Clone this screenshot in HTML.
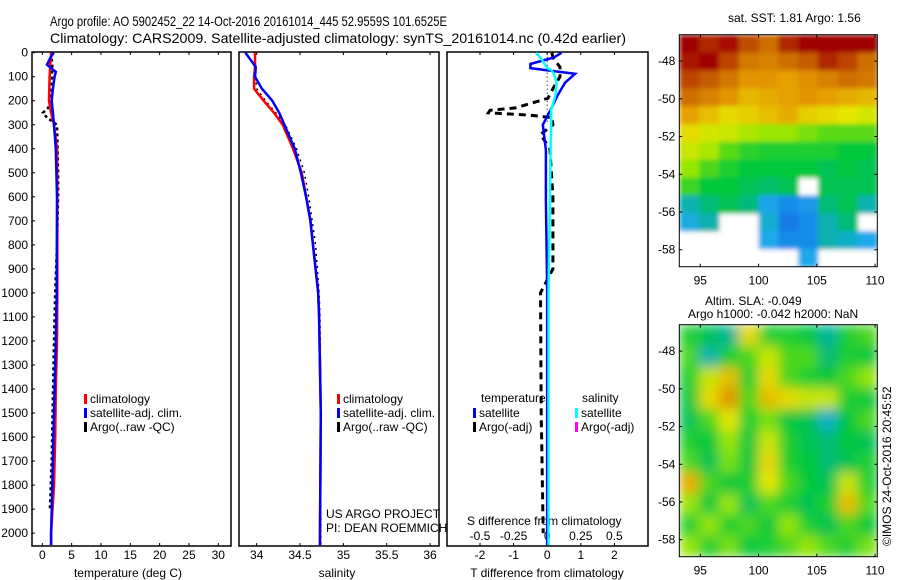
<!DOCTYPE html>
<html><head><meta charset="utf-8"><style>
body{margin:0;background:#fff;width:900px;height:580px;overflow:hidden}
svg{display:block;font-family:"Liberation Sans",sans-serif}
</style></head><body>
<svg id="fig" width="900" height="580" xmlns="http://www.w3.org/2000/svg">
<defs>
<filter id="blurSla" x="0" y="0" width="1" height="1"><feGaussianBlur stdDeviation="6" edgeMode="duplicate"/></filter>
<filter id="blurSst" x="0" y="0" width="1" height="1"><feGaussianBlur stdDeviation="2.5" edgeMode="duplicate"/></filter>
<clipPath id="clipM1"><rect x="679.3" y="34.7" width="198" height="232"/></clipPath>
<clipPath id="clipM2"><rect x="679.3" y="324.7" width="198" height="232"/></clipPath>
</defs>
<text x="50" y="26" font-size="14" textLength="397" lengthAdjust="spacingAndGlyphs">Argo profile: AO 5902452_22 14-Oct-2016 20161014_445 52.9559S 101.6525E</text>
<text x="50" y="43" font-size="14" textLength="576" lengthAdjust="spacingAndGlyphs">Climatology: CARS2009. Satellite-adjusted climatology: synTS_20161014.nc (0.42d earlier)</text>
<g id="g1"></g>
<g id="g2"></g>
<g id="g3"></g>
<g id="m1"></g>
<g id="m2"></g>
<text x="728" y="22" font-size="12">sat. SST: 1.81  Argo: 1.56</text>
<text x="705" y="305" font-size="12">Altim. SLA: -0.049</text>
<text x="688" y="318" font-size="12">Argo h1000: -0.042 h2000: NaN</text>
<text transform="translate(891,546) rotate(-90)" font-size="12">©IMOS 24-Oct-2016 20:45:52</text>
</svg>
<script>
// ---- data ----
const depthT=[0,20,50,80,100,150,200,250,300,400,600,1000,1200,1400,1600,1800,2000,2050];
const climT=[1.5,1.45,1.35,1.3,1.25,1.2,1.15,1.5,2.0,2.5,2.55,2.55,2.5,2.3,2.2,2.0,1.5,1.5];
const satT=[1.95,1.4,0.8,2.3,2.1,1.8,1.6,1.8,2.0,2.3,2.5,2.45,2.3,2.1,1.9,1.7,1.5,1.5];
const depthA=[0,50,100,150,200,230,250,270,300,400,500,600,800,1000,1200,1500,1700,1900];
const argoT=[1.5,1.7,1.65,1.4,1.3,1.0,0.1,0.8,2.5,2.6,2.7,2.7,2.5,2.2,2.0,1.75,1.6,1.3];
const depthS=[0,40,60,100,150,200,250,300,400,500,600,700,800,900,1000,1100,1500,2000,2050];
const climS=[33.98,33.98,33.98,33.97,33.97,34.08,34.2,34.3,34.42,34.52,34.57,34.62,34.65,34.68,34.71,34.72,34.74,34.73,34.73];
const satS=[33.87,33.95,33.99,33.98,34.06,34.18,34.26,34.32,34.44,34.51,34.57,34.62,34.65,34.68,34.71,34.72,34.74,34.73,34.73];
const argoS=[33.98,33.98,33.99,33.99,34.0,34.1,34.22,34.33,34.46,34.55,34.6,34.64,34.68,34.7,34.72,34.73,34.74,34.74,34.74];
const depthD=[0,20,47,64,72,88,125,180,238,300,405,612,1000,1500,2000,2050];
const satDT=[0.43,0.2,-0.5,-0.5,-0.07,0.83,0.53,0.3,0.1,-0.13,-0.04,-0.04,0,0,0,0];
const satDS=[-0.083,-0.05,-0.02,0,0.03,0.05,0.07,0.06,0.03,0.03,0.025,0.02,0.01,0.01,0.01,0.01];
const depthDA=[0,20,60,100,150,190,230,240,250,260,270,300,340,400,600,900,1000,1500,2000];
const argoDT=[0.14,0.17,0.38,0.38,0.17,0.02,-0.95,-1.7,-1.75,-0.5,0.14,0.17,-0.2,0.08,0.17,0.17,-0.2,-0.18,-0.12];
const depthTicks=[0,100,200,300,400,500,600,700,800,900,1000,1100,1200,1300,1400,1500,1600,1700,1800,1900,2000];
const tTicks=[0,5,10,15,20,25,30];
const sTicks=[34,34.5,35,35.5,36];
const sTickLabels=["34","34.5","35","35.5","36"];
const dTTicks=[-2,-1,0,1,2];
const dSTicks=[-0.5,-0.25,0,0.25,0.5];
const dSTickLabels=["-0.5","-0.25","0","0.25","0.5"];
const lonTicks=[95,100,105,110];
const latTicks=[-48,-50,-52,-54,-56,-58];
const sstGrid=[
[.97,.9,.93,.85,.8,.9,.96,.97,.97,.95],
[.92,.95,.86,.78,.76,.8,.83,.9,.86,.8],
[.86,.83,.78,.72,.72,.7,.73,.76,.8,.78],
[.8,.76,.72,.66,.68,.7,.72,.7,.68,.66],
[.7,.65,.6,.62,.65,.68,.62,.6,.58,.56],
[.6,.56,.55,.52,.5,.5,.48,.46,.46,.46],
[.55,.52,.46,.43,.42,.42,.42,.42,.4,.4],
[.5,.45,.42,.4,.4,.4,.4,.38,.4,.38],
[.44,.4,.4,.38,.36,.38,-1,.38,.38,.38],
[.3,.35,.38,.34,.24,.2,.22,.35,.38,.3],
[.26,.3,-1,-1,.27,.17,.2,.3,.35,-1],
[-1,-1,-1,-1,.25,.2,.2,.3,.28,.25],
[-1,-1,-1,-1,-1,-1,.25,-1,-1,-1]];
const slaGrid=[
[.42,.38,.32,.6,.42,.42,.4,.32,.42,.45],
[.45,.3,.42,.45,.55,.45,.45,.35,.42,.4],
[.42,.55,.65,.42,.6,.45,.42,.4,.45,.5],
[.4,.6,.72,.45,.65,.6,.55,.55,.42,.4],
[.38,.45,.58,.42,.48,.4,.38,.28,.4,.45],
[.42,.4,.5,.4,.55,.42,.38,.35,.4,.38],
[.45,.38,.48,.4,.6,.42,.4,.35,.38,.42],
[.68,.45,.4,.42,.58,.45,.4,.38,.55,.42],
[.5,.4,.5,.38,.45,.42,.38,.42,.65,.45],
[.42,.5,.42,.45,.4,.5,.42,.38,.45,.4],
[.5,.42,.48,.4,.42,.45,.5,.45,.42,.48]];
// ---- helpers ----
const NS="http://www.w3.org/2000/svg";
function mk(p,t,a){const e=document.createElementNS(NS,t);for(const k in a)e.setAttribute(k,a[k]);p.appendChild(e);return e;}
const Y=d=>52.7+d*0.2402;
const topY=52,botY=546;
function axisBox(g,x0,x1){mk(g,'rect',{x:x0,y:topY,width:x1-x0,height:botY-topY,fill:'none',stroke:'#000','stroke-width':1.5});}
function line(g,xs,ds,X,col,w,dash,name){
 const pts=ds.map((d,i)=>X(xs[i]).toFixed(1)+','+Y(d).toFixed(1)).join(' ');
 const pl=mk(g,'polyline',{points:pts,fill:'none',stroke:col,'stroke-width':w});
 if(dash)pl.setAttribute('stroke-dasharray',dash);
 
 
}
function txt(g,x,y,s,anchor,size,name){const t=mk(g,'text',{x:x,y:y,'font-size':size||12,'text-anchor':anchor||'start'});t.textContent=s;
 
 return t;}
function legend(g,x,y,col,label){mk(g,'rect',{x:x,y:y-9,width:3,height:10,fill:col});txt(g,x+6,y,label,'start',12,'legend-entry');}
// ---- panel 1 ----
const g1=document.getElementById('g1');
const X1=v=>42.3+v*5.867;
axisBox(g1,32,231);
depthTicks.forEach(d=>{mk(g1,'line',{x1:32,x2:35,y1:Y(d),y2:Y(d),stroke:'#000'});txt(g1,28,Y(d)+4,String(d),'end',12,'y-tick-label');});
tTicks.forEach(v=>{mk(g1,'line',{x1:X1(v),x2:X1(v),y1:topY,y2:topY+3,stroke:'#000'});mk(g1,'line',{x1:X1(v),x2:X1(v),y1:botY,y2:botY-3,stroke:'#000'});txt(g1,X1(v),559,String(v),'middle',12,'x-tick-label');});
txt(g1,128,577,'temperature (deg C)','middle',12,'x-axis-title');
line(g1,argoT,depthA,X1,'#000',2.5,'3,3','argo-temperature-line');
line(g1,climT,depthT,X1,'#f00',2.5,null,'climatology-temperature-line');
line(g1,satT,depthT,X1,'#00f',2.5,null,'satellite-temperature-line');
legend(g1,84,403,'#f00','climatology');legend(g1,84,417,'#00f','satellite-adj. clim.');legend(g1,84,431,'#000','Argo(..raw -QC)');
// ---- panel 2 ----
const g2=document.getElementById('g2');
const X2=v=>256.7+(v-34)*86.67;
axisBox(g2,239,439);
sTicks.forEach((v,i)=>{mk(g2,'line',{x1:X2(v),x2:X2(v),y1:topY,y2:topY+3,stroke:'#000'});mk(g2,'line',{x1:X2(v),x2:X2(v),y1:botY,y2:botY-3,stroke:'#000'});txt(g2,X2(v),559,sTickLabels[i],'middle',12,'x-tick-label');});
txt(g2,337,577,'salinity','middle',12,'x-axis-title');
line(g2,argoS,depthS,X2,'#000',1.5,'2,4','argo-salinity-line');
line(g2,climS,depthS,X2,'#f00',2.5,null,'climatology-salinity-line');
line(g2,satS,depthS,X2,'#00f',2.5,null,'satellite-salinity-line');
legend(g2,337,403,'#f00','climatology');legend(g2,337,417,'#00f','satellite-adj. clim.');legend(g2,337,431,'#000','Argo(..raw -QC)');
txt(g2,326,518,'US ARGO PROJECT','start',12,'credit-line-1');txt(g2,326,532,'PI: DEAN ROEMMICH','start',12,'credit-line-2');
// ---- panel 3 ----
const g3=document.getElementById('g3');
const X3=v=>547.2+v*33.6, X3s=v=>547.2+v*134.4;
axisBox(g3,447,648);
mk(g3,'line',{x1:X3(0),x2:X3(0),y1:Y(0),y2:Y(300),stroke:'#000','stroke-dasharray':'1,3'});
dTTicks.forEach(v=>{mk(g3,'line',{x1:X3(v),x2:X3(v),y1:topY,y2:topY+3,stroke:'#000'});txt(g3,X3(v),559,String(v),'middle',12,'t-diff-tick-label');});
dSTicks.forEach((v,i)=>{mk(g3,'line',{x1:X3s(v),x2:X3s(v),y1:botY,y2:botY-3,stroke:'#000'});txt(g3,X3s(v),540,dSTickLabels[i],'middle',12,'s-diff-tick-label');});
txt(g3,467,525,'S difference from climatology','start',12,'s-axis-title');
txt(g3,547,577,'T difference from climatology','middle',12,'t-axis-title');
line(g3,argoDT,depthDA,X3,'#000',3,'7,5','argo-t-diff-line');
line(g3,satDT,depthD,X3,'#00f',2.5,null,'satellite-t-diff-line');
line(g3,satDS,depthD,X3s,'#0ff',2.5,null,'satellite-s-diff-line');
txt(g3,481,402,'temperature','start',12,'legend-header-t');txt(g3,582,402,'salinity','start',12,'legend-header-s');
legend(g3,473,417,'#00f','satellite');legend(g3,473,431,'#000','Argo(-adj)');
legend(g3,575,417,'#0ff','satellite');legend(g3,575,431,'#f0f','Argo(-adj)');
// ---- maps ----
const stops=[[0,[0,0,140]],[.15,[20,110,230]],[.25,[30,170,235]],[.32,[0,180,150]],[.4,[0,200,60]],[.5,[150,230,0]],[.58,[230,230,0]],[.7,[230,160,0]],[.82,[200,100,0]],[.95,[160,0,0]],[1,[160,0,0]]];
function cmap(v){for(let i=1;i<stops.length;i++){if(v<=stops[i][0]){const a=stops[i-1],b=stops[i],t=(v-a[0])/(b[0]-a[0]);return 'rgb('+a[1].map((c,k)=>Math.round(c+(b[1][k]-c)*t)).join(',')+')';}}return 'rgb(160,0,0)';}
function map(id,grid,y0,y1,filt,clip){
 const g=document.getElementById(id), x0=679.3,x1=877.3;
 const LX=v=>700.3+(v-95)*11.65;
 const pxPerDeg=(y1-y0)/12.3;
 const LY=v=>y0+(-46.6-v)*pxPerDeg;
 const rows=grid.length, cols=grid[0].length, cw=(x1-x0)/cols, ch=(y1-y0)/rows;
 const outer=mk(g,'g',{'clip-path':'url(#'+clip+')'});
 const cells=mk(outer,'g',{filter:'url(#'+filt+')'});
 mk(cells,'rect',{x:x0,y:y0,width:x1-x0,height:y1-y0,fill:'#fff'});
 grid.forEach((r,i)=>r.forEach((v,j)=>{if(v<0)return;const c=mk(cells,'rect',{x:x0+j*cw,y:y0+i*ch,width:cw+0.6,height:ch+0.6,fill:cmap(v)});
  
  }));
 mk(g,'rect',{x:x0,y:y0,width:x1-x0,height:y1-y0,fill:'none',stroke:'#000'});
 lonTicks.forEach(v=>{mk(g,'line',{x1:LX(v),x2:LX(v),y1:y0,y2:y0+3,stroke:'#000'});mk(g,'line',{x1:LX(v),x2:LX(v),y1:y1,y2:y1-3,stroke:'#000'});txt(g,LX(v),y1+18,String(v),'middle',12,'lon-tick-label');});
 latTicks.forEach(v=>{mk(g,'line',{x1:x0,x2:x0+3,y1:LY(v),y2:LY(v),stroke:'#000'});mk(g,'line',{x1:x1,x2:x1-3,y1:LY(v),y2:LY(v),stroke:'#000'});txt(g,x0-4,LY(v)+4,String(v),'end',12,'lat-tick-label');});
}
map('m1',sstGrid,34.7,266.7,'blurSst','clipM1');
map('m2',slaGrid,324.7,556.7,'blurSla','clipM2');
</script>
</body></html>
